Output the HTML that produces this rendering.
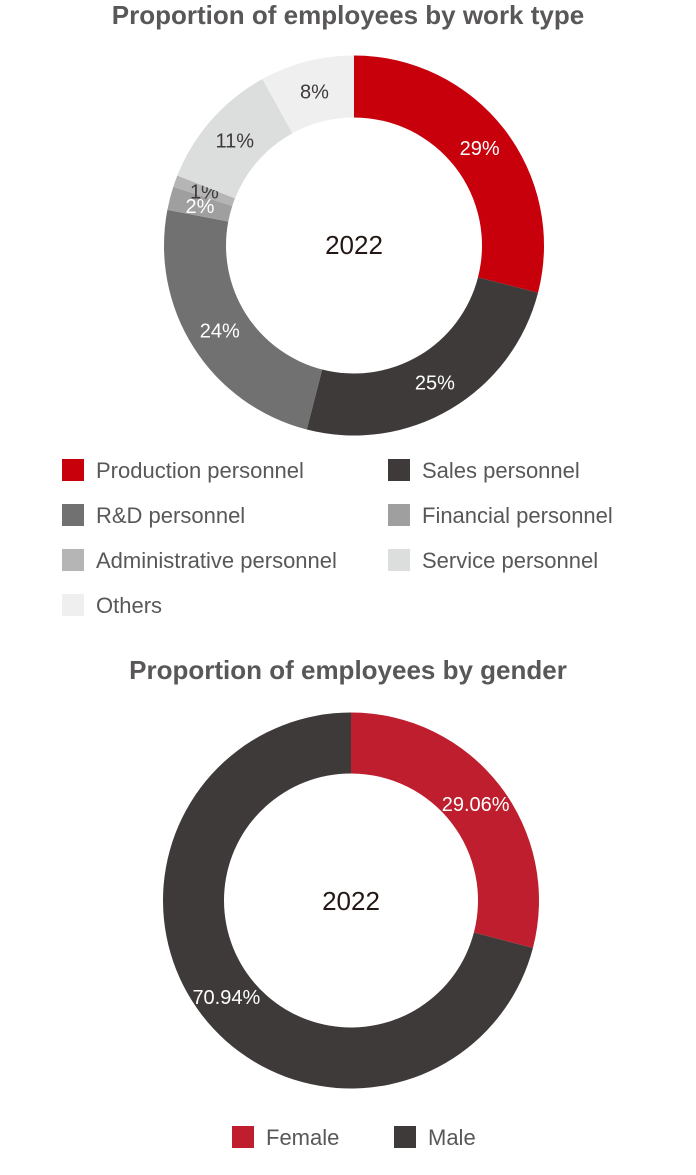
<!DOCTYPE html>
<html><head><meta charset="utf-8">
<style>
body{margin:0;background:#fff;width:696px;height:1170px;overflow:hidden;font-family:"Liberation Sans",sans-serif;}
svg text{font-family:"Liberation Sans",sans-serif;}
</style></head>
<body>
<svg id="svg" width="696" height="1170">
<text x="348" y="24" text-anchor="middle" font-size="26" font-weight="bold" fill="#595757">Proportion of employees by work type</text>
<text x="354" y="254" text-anchor="middle" font-size="26" fill="#231815">2022</text>
<text x="348" y="679" text-anchor="middle" font-size="26" font-weight="bold" fill="#595757">Proportion of employees by gender</text>
<text x="351" y="910" text-anchor="middle" font-size="26" fill="#231815">2022</text>
<g id="legend1"></g>
<g id="legend2"></g>
</svg>
<script>
const workCategories=["Production personnel","Sales personnel","R&D personnel","Financial personnel","Administrative personnel","Service personnel","Others"];
const workValues=[29,25,24,2,1,11,8];
const workLabels=["29%","25%","24%","2%","1%","11%","8%"];
const workColors=["#c8000b","#3e3a39","#727171","#9f9f9f","#b5b5b5","#dcdddd","#efefef"];
const workLabelColors=["#fff","#fff","#fff","#fff","#3e3a39","#3e3a39","#3e3a39"];
const genderCategories=["Female","Male"];
const genderValues=[29.06,70.94];
const genderLabels=["29.06%","70.94%"];
const genderColors=["#be1e2d","#3e3a39"];
const NS="http://www.w3.org/2000/svg";
const svg=document.getElementById('svg');
function pt(cx,cy,r,a){return [cx+r*Math.sin(a),cy-r*Math.cos(a)];}
function donut(cx,cy,ro,ri,vals,cols,labels,lcols,names){
  const tot=vals.reduce((a,b)=>a+b,0);let a0=0;
  vals.forEach((v,i)=>{
    const a1=a0+v/tot*2*Math.PI;const lg=(a1-a0)>Math.PI?1:0;
    const p1=pt(cx,cy,ro,a0),p2=pt(cx,cy,ro,a1),p3=pt(cx,cy,ri,a1),p4=pt(cx,cy,ri,a0);
    const p=document.createElementNS(NS,'path');
    p.setAttribute('d',`M${p1}A${ro},${ro} 0 ${lg} 1 ${p2}L${p3}A${ri},${ri} 0 ${lg} 0 ${p4}Z`);
    p.setAttribute('fill',cols[i]);
    
    
    svg.appendChild(p);
    const m=(a0+a1)/2;const lp=pt(cx,cy,(ro+ri)/2,m);
    const t=document.createElementNS(NS,'text');
    t.setAttribute('x',lp[0]);t.setAttribute('y',lp[1]+7);
    t.setAttribute('text-anchor','middle');t.setAttribute('font-size','20');
    t.setAttribute('fill',lcols[i]);t.textContent=labels[i];
    
    
    svg.appendChild(t);
    a0=a1;
  });
}
donut(354,245.5,190,128,workValues,workColors,workLabels,workLabelColors,'work-type');
donut(351,900.5,188,127,genderValues,genderColors,genderLabels,["#fff","#fff"],'gender');
function legendItem(x,y,col,txt,n){
  const r=document.createElementNS(NS,'rect');
  r.setAttribute('x',x);r.setAttribute('y',y-11);r.setAttribute('width',22);r.setAttribute('height',22);r.setAttribute('fill',col);
  
  
  svg.appendChild(r);
  const t=document.createElementNS(NS,'text');
  t.setAttribute('x',x+34);t.setAttribute('y',y+8);t.setAttribute('font-size','22');t.setAttribute('fill','#595757');
  t.textContent=txt;
  
  
  svg.appendChild(t);
}
workCategories.forEach((c,i)=>{
  const x=i%2===0?62:388;const y=470+Math.floor(i/2)*45;
  legendItem(x,y,workColors[i],c,'legend-work-'+i);
});
legendItem(232,1137,genderColors[0],genderCategories[0],'legend-female');
legendItem(394,1137,genderColors[1],genderCategories[1],'legend-male');
</script>
</body></html>
